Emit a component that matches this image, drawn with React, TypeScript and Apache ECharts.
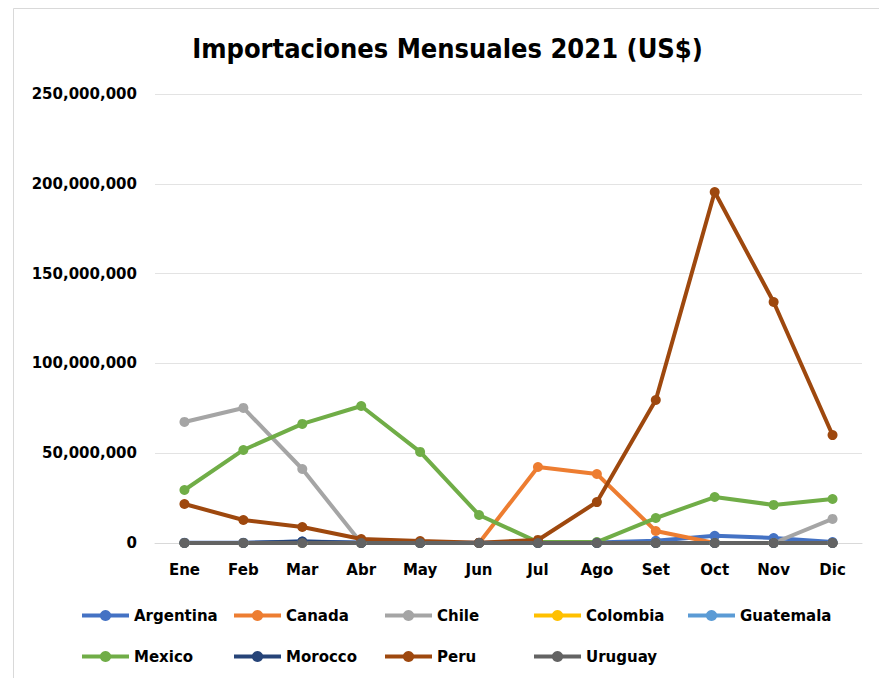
import React, { useEffect, useRef } from "react";
import * as echarts from "echarts";

const months = ["Ene", "Feb", "Mar", "Abr", "May", "Jun", "Jul", "Ago", "Set", "Oct", "Nov", "Dic"];
const argentina = [200000, 200000, 800000, 300000, 200000, 100000, 200000, 300000, 1200000, 4000000, 2800000, 500000];
const canada = [0, 0, 0, 0, 0, 0, 42300000, 38400000, 6700000, 0, 0, 0];
const chile = [67400000, 75200000, 41200000, 0, 0, 0, 0, 0, 0, 0, 0, 13400000];
const colombia = [0, 0, 0, 0, 0, 0, 0, 0, 0, 0, 0, 0];
const guatemala = [0, 0, 0, 0, 0, 0, 0, 0, 0, 0, 0, 0];
const mexico = [29500000, 51800000, 66300000, 76300000, 50700000, 15600000, 500000, 500000, 13900000, 25600000, 21200000, 24500000];
const morocco = [0, 0, 800000, 0, 0, 0, 0, 0, 0, 0, 0, 0];
const peru = [21700000, 12800000, 8900000, 2200000, 1100000, 200000, 1700000, 22800000, 79600000, 195400000, 134200000, 60100000];
const uruguay = [0, 0, 0, 0, 0, 0, 0, 0, 0, 0, 0, 0];

const seriesNames = ["Argentina", "Canada", "Chile", "Colombia", "Guatemala", "Mexico", "Morocco", "Peru", "Uruguay"];
const seriesData = [argentina, canada, chile, colombia, guatemala, mexico, morocco, peru, uruguay];
const colors = ["#4472C4", "#ED7D31", "#A5A5A5", "#FFC000", "#5B9BD5", "#70AD47", "#264478", "#9E480E", "#636363"];

const FONT = "'DejaVu Sans', sans-serif";
const TITLE_FONT = "'DejaVu Sans Condensed', 'DejaVu Sans', sans-serif";

export default function App() {
  const ref = useRef<HTMLDivElement>(null);
  useEffect(() => {
    if (!ref.current) return;
    const chart = echarts.init(ref.current, undefined, { renderer: "svg" });
    const legendLeft = [72, 224, 375, 524, 678, 72, 224, 375, 524];
    const legendTop = [600, 600, 600, 600, 600, 641, 641, 641, 641];
    chart.setOption({
      animation: false,
      color: colors,
      title: {
        text: "Importaciones Mensuales 2021 (US$)",
        left: "center",
        top: 22,
        textStyle: { fontFamily: TITLE_FONT, fontSize: 27, fontWeight: "bold", color: "#000" },
      },
      graphic: [
        {
          type: "rect",
          shape: { x: 5.5, y: 0.5, width: 872, height: 700 },
          style: { fill: "none", stroke: "#d9d9d9", lineWidth: 1 },
          silent: true,
        },
      ],
      legend: seriesNames.map((n, i) => ({
        data: [n],
        left: legendLeft[i],
        top: legendTop[i],
        itemWidth: 47,
        itemHeight: 14,
        itemGap: 0,
        padding: 0,
        lineStyle: { width: 4 },
        textStyle: { fontFamily: FONT, fontSize: 15, fontWeight: "bold", color: "#000" },
        selectedMode: false,
      })),
      grid: { left: 147, right: 25, top: 86, bottom: 135 },
      xAxis: {
        type: "category",
        data: months,
        boundaryGap: true,
        axisLine: { lineStyle: { color: "#d9d9d9" } },
        axisTick: { show: false },
        axisLabel: { fontFamily: FONT, fontSize: 15, fontWeight: "bold", color: "#000", margin: 19 },
      },
      yAxis: {
        type: "value",
        min: 0,
        max: 250000000,
        interval: 50000000,
        axisLine: { show: false },
        axisTick: { show: false },
        splitLine: { lineStyle: { color: "#e3e3e3", width: 1 } },
        axisLabel: {
          fontFamily: FONT,
          fontSize: 15,
          fontWeight: "bold",
          color: "#000",
          margin: 18,
          formatter: (v: number) => v.toLocaleString("en-US"),
        },
      },
      series: seriesNames.map((n, i) => ({
        name: n,
        type: "line",
        data: seriesData[i],
        symbol: "circle",
        symbolSize: 10,
        lineStyle: { width: 4, color: colors[i] },
        itemStyle: { color: colors[i] },
      })),
    });
    return () => chart.dispose();
  }, []);
  return <div ref={ref} style={{ width: 879, height: 670 }} />;
}
